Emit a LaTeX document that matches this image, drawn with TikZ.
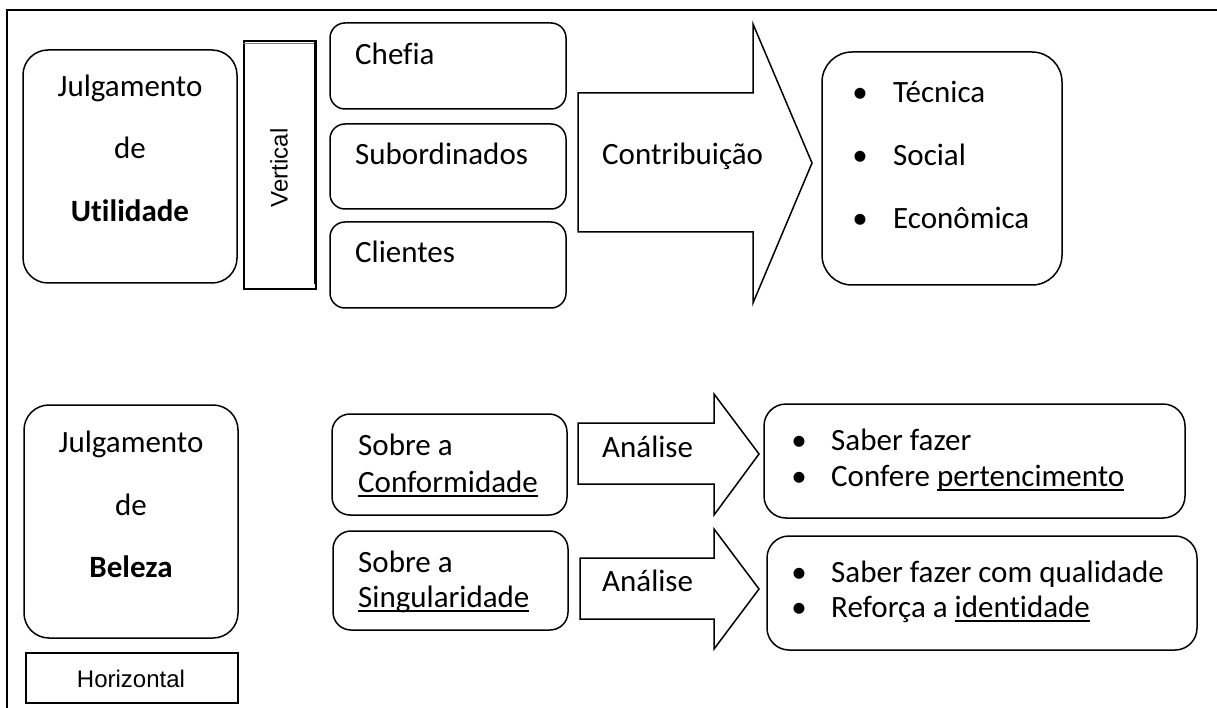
\documentclass[tikz,border=0pt]{standalone}
\usepackage{fontspec}
\setmainfont{Carlito}[Ligatures=NoCommon]
\newfontfamily\arialfont{Liberation Sans}
\usetikzlibrary{positioning}
\newcommand{\undr}[1]{\setbox0\hbox{#1}\rlap{\rule[-0.17em]{\wd0}{0.06em}}\box0}

\tikzset{
  rbox/.style={draw, line width=1.5pt, rounded corners=#1, inner sep=0pt},
  sqbox/.style={draw, line width=1.5pt, inner sep=0pt},
  txt/.style={font=\fontsize{31}{37}\selectfont, inner sep=0pt},
  arialtxt/.style={font=\arialfont\fontsize{24}{28}\selectfont, inner sep=0pt},
  blockarrow/.style={draw, line width=1.5pt, line join=miter}
}

\begin{document}
\begin{tikzpicture}[x=1pt, y=-1pt]
  \useasboundingbox (0,0) rectangle (1217,708);
  % frame
  \draw[line width=1.5pt] (7,708) -- (7,10) -- (1217,10);

  % Julgamento de Utilidade
  \node[rbox=25pt, minimum width=214pt, minimum height=233pt] (util) at (130,166.5) {};
  \node[txt, anchor=base] (utilA) at (130,97) {Julgamento};
  \node[txt, anchor=base] (utilB) at (130,159) {de};
  \node[txt, anchor=base, font=\fontsize{31}{37}\selectfont\bfseries] (utilC) at (130,222) {Utilidade};

  % Vertical
  \node[sqbox, minimum width=72pt, minimum height=248pt] (vert) at (280,165) {};
  \draw[line width=1pt, gray] ([yshift=-3pt]vert.north west) -- ([yshift=-3pt]vert.north east);
  \draw[line width=3pt] ([xshift=-1pt]vert.north east) -- ([xshift=-1pt, yshift=6pt]vert.south east);
  \node[arialtxt, rotate=90] (vertlbl) at (279,168) {Vertical};

  % Chefia / Subordinados / Clientes
  \node[rbox=15pt, minimum width=236pt, minimum height=86pt] (chefia) at (448,66) {};
  \node[txt, anchor=base west] (chefialbl) at (355,65) {Chefia};
  \node[rbox=15pt, minimum width=236pt, minimum height=85pt] (subord) at (448,166.5) {};
  \node[txt, anchor=base west] (subordlbl) at (355,165) {Subordinados};
  \node[rbox=15pt, minimum width=236pt, minimum height=86pt] (client) at (448,265) {};
  \node[txt, anchor=base west] (clientlbl) at (355,263) {Clientes};

  % Contribuicao
  \draw[blockarrow] (578,93) -- (753,93) -- (753,24) -- (812,163) -- (753,303) -- (753,232) -- (578,232) -- cycle;
  \node[txt, anchor=base west] (contrib) at (602,165) {Contribuição};

  % Tecnica / Social / Economica
  \node[rbox=30pt, minimum width=240pt, minimum height=233pt] (dims) at (942,168.5) {};
  \node[txt, anchor=base] (dimsbA) at (860,103) {\textbullet};
  \node[txt, anchor=base west] (dimsA) at (893,103) {Técnica};
  \node[txt, anchor=base] (dimsbB) at (860,166) {\textbullet};
  \node[txt, anchor=base west] (dimsB) at (893,166) {Social};
  \node[txt, anchor=base] (dimsbC) at (860,229) {\textbullet};
  \node[txt, anchor=base west] (dimsC) at (893,229) {Econômica};

  % Julgamento de Beleza
  \node[rbox=25pt, minimum width=214pt, minimum height=233pt] (bel) at (131,521.5) {};
  \node[txt, anchor=base] (belA) at (131,452) {Julgamento};
  \node[txt, anchor=base] (belB) at (131,515) {de};
  \node[txt, anchor=base, font=\fontsize{31}{37}\selectfont\bfseries] (belC) at (131,577) {Beleza};

  % Horizontal
  \node[sqbox, minimum width=212pt, minimum height=50pt] (horiz) at (132,678) {};
  \node[arialtxt, anchor=base] (horizlbl) at (131,687) {Horizontal};

  % Sobre a Conformidade / Singularidade
  \node[rbox=18pt, minimum width=235pt, minimum height=101pt] (conf) at (449.5,464.5) {};
  \node[txt, anchor=base west] (confA) at (358,455) {Sobre a};
  \node[txt, anchor=base west] (confB) at (358,492) {\undr{Conformidade}};
  \node[rbox=18pt, minimum width=235pt, minimum height=99pt] (sing) at (450.5,580.5) {};
  \node[txt, anchor=base west] (singA) at (358,572) {Sobre a};
  \node[txt, anchor=base west] (singB) at (358,607) {\undr{Singularidade}};

  % Analise
  \draw[blockarrow] (578,423) -- (714,423) -- (714,394) -- (759,454) -- (714,515) -- (714,484) -- (578,484) -- cycle;
  \node[txt, anchor=base west] (anaA) at (602,457) {Análise};
  \draw[blockarrow] (580,558) -- (714,558) -- (714,529) -- (759,589) -- (714,649) -- (714,619) -- (580,619) -- cycle;
  \node[txt, anchor=base west] (anaB) at (602,591) {Análise};

  % resultados
  \node[rbox=22pt, minimum width=421pt, minimum height=114pt] (resA) at (974.5,461) {};
  \node[txt, anchor=base] (resAb1) at (799,450) {\textbullet};
  \node[txt, anchor=base west] (resA1) at (831,450) {Saber fazer};
  \node[txt, anchor=base] (resAb2) at (799,486) {\textbullet};
  \node[txt, anchor=base west] (resA2) at (831,486) {Confere \undr{pertencimento}};
  \node[rbox=22pt, minimum width=430pt, minimum height=114pt] (resB) at (982,593) {};
  \node[txt, anchor=base] (resBb1) at (799,582) {\textbullet};
  \node[txt, anchor=base west] (resB1) at (831,582) {Saber fazer com qualidade};
  \node[txt, anchor=base] (resBb2) at (799,617) {\textbullet};
  \node[txt, anchor=base west] (resB2) at (831,617) {Reforça a \undr{identidade}};
\end{tikzpicture}
\end{document}
